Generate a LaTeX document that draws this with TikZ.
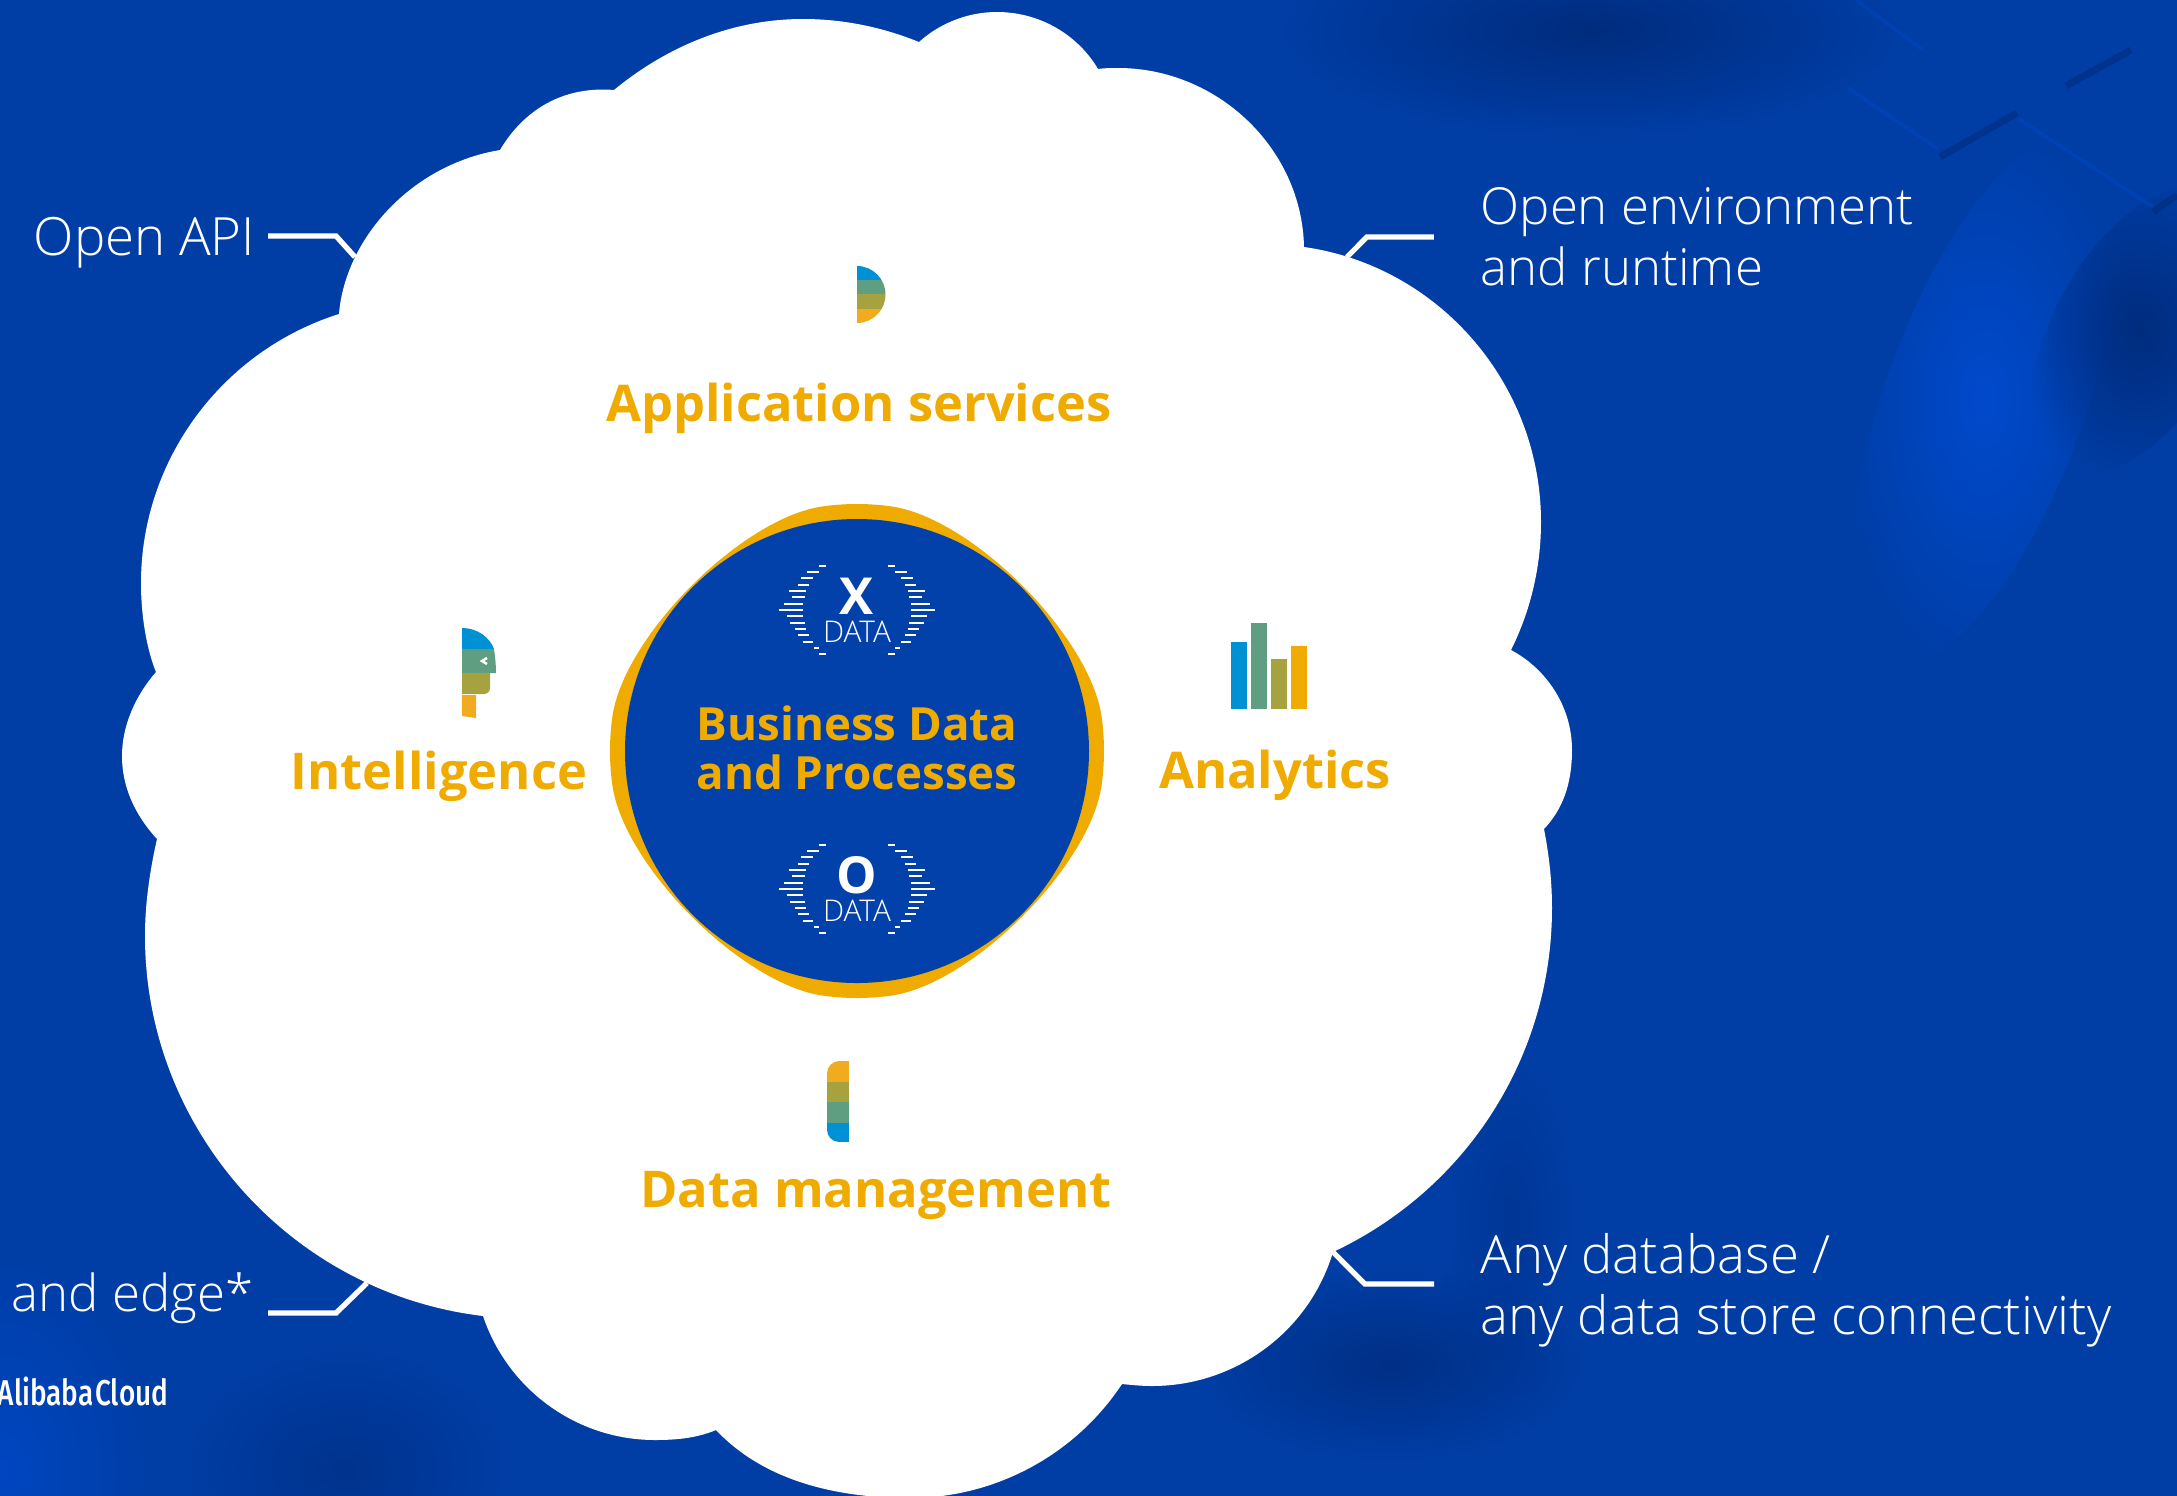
\documentclass[tikz,border=0pt]{standalone}
\usepackage{fontspec}
\setmainfont{Open Sans}
\newfontfamily\lightfont{Open Sans Light}
\newfontfamily\boldfont{Open Sans}
\newfontfamily\logofont{Fira Sans Medium}[FakeStretch=0.78]
\usepackage{tikz}
\usetikzlibrary{positioning, fadings}
\definecolor{bgblue}{RGB}{0,62,166}
\definecolor{deepblue}{RGB}{0,44,125}
\definecolor{paleblue}{RGB}{0,74,205}
\definecolor{corefill}{RGB}{2,64,170}
\definecolor{gold}{RGB}{240,171,0}
\definecolor{bandblue}{RGB}{0,144,212}
\definecolor{bandgreen}{RGB}{95,158,128}
\definecolor{bandolive}{RGB}{165,162,63}
\definecolor{bandorange}{RGB}{240,171,30}
\tikzfading[name=softblob, inner color=transparent!0, outer color=transparent!100]
\tikzset{
  note/.style={inner sep=0pt, text=white, align=left, font=\lightfont\fontsize{15}{17.4}\selectfont},
  narrownote/.style={note, font=\lightfont\fontsize{14.5}{17.4}\selectfont},
  headline/.style={inner sep=0pt, text=gold, align=center, font=\boldfont\bfseries\fontsize{14.4}{16}\selectfont},
  coreline/.style={headline, font=\boldfont\bfseries\fontsize{13}{13.9}\selectfont},
  pointer/.style={draw=white, line width=1.5pt, line join=miter},
  eyedash/.style={draw=white, line width=0.5pt},
  bigletter/.style={inner sep=0pt, text=white, font=\boldfont\bfseries\fontsize{14.5}{15}\selectfont},
  smallword/.style={inner sep=0pt, text=white, font=\lightfont\fontsize{8.5}{9}\selectfont},
  scratch/.style={draw=deepblue, line width=2pt, opacity=0.6},
  ridge/.style={draw=paleblue, line width=1pt, opacity=0.4},
  blob/.style={path fading=softblob},
}
\newcommand{\dataeye}[3]{
  \node [bigletter] (#1letter) at (#2) {#3};
  \node [smallword, below=0.05cm of #1letter] (#1word) {DATA};
  \foreach \r/\a/\b in {-7/31/38,-6/38/50,-5/44/56,-4/48/59,-3/51/68,-2/52/65,-1/54/73,0/54/78,1/54/70,2/52/67,3/51/62,4/48/59,5/44/54,6/38/43,7/31/38} {
    \draw [eyedash] ([shift={(-\a,\r*6.33+14)}]#1letter.center) -- ([shift={(-\b,\r*6.33+14)}]#1letter.center);
    \draw [eyedash] ([shift={(\a,\r*6.33+14)}]#1letter.center) -- ([shift={(\b,\r*6.33+14)}]#1letter.center);
  }
}
\begin{document}
\begin{tikzpicture}[x=0.01cm, y=-0.01cm]
  \useasboundingbox (0,0) rectangle (2177,1496);
  \clip (0,0) rectangle (2177,1496);
  \fill [bgblue] (0,0) rectangle (2177,1496);

  %BACKGROUND
  \fill [deepblue, blob] (1590,30) ellipse (320 and 110);
  \begin{scope}[shift={(1985,400)}, rotate=-20]
    \fill [paleblue, blob] (0,0) ellipse (100 and 280);
  \end{scope}
  \begin{scope}[shift={(2140,330)}, rotate=-30]
    \fill [deepblue, blob] (0,0) ellipse (85 and 160);
  \end{scope}
  \fill [deepblue, blob, opacity=0.8] (1390,1365) ellipse (200 and 100);
  \fill [deepblue, blob, opacity=0.4] (1510,1220) ellipse (70 and 180);
  \fill [deepblue, blob, opacity=0.6] (345,1470) ellipse (170 and 130);
  \fill [paleblue, blob, opacity=0.7] (0,1470) ellipse (150 and 220);
  \draw [scratch] (1940,157) -- (2017,113);
  \draw [scratch] (2066,86) -- (2131,50);
  \draw [scratch] (2153,212) -- (2177,195);
  \draw [ridge] (1848,88) -- (1938,149);
  \draw [ridge] (1856,0) -- (1923,50);
  \draw [ridge] (2019,119) -- (2153,207);

  %CLOUD
  \fill [white] (614,90)
    .. controls (665,48) and (730,19) .. (803,19)
    .. controls (843,19) and (882,27) .. (919,42)
    .. controls (940,23) and (968,12) .. (997,12)
    .. controls (1040,12) and (1078,35) .. (1098,69)
    .. controls (1104,68) and (1112,68) .. (1118,68)
    .. controls (1217,68) and (1302,148) .. (1304,247)
    .. controls (1439,266) and (1541,384) .. (1541,522)
    .. controls (1541,566) and (1531,610) .. (1511,650)
    .. controls (1545,668) and (1572,705) .. (1572,750)
    .. controls (1572,785) and (1562,810) .. (1544,829)
    .. controls (1549,855) and (1552,880) .. (1552,908)
    .. controls (1552,1056) and (1467,1189) .. (1333,1252)
    .. controls (1309,1332) and (1235,1386) .. (1152,1386)
    .. controls (1142,1386) and (1132,1385) .. (1122,1384)
    .. controls (1075,1455) and (995,1498) .. (910,1498)
    .. controls (841,1498) and (766,1483) .. (716,1430)
    .. controls (697,1438) and (677,1440) .. (655,1440)
    .. controls (577,1440) and (508,1390) .. (483,1316)
    .. controls (291,1293) and (145,1129) .. (145,936)
    .. controls (145,903) and (150,870) .. (157,839)
    .. controls (135,815) and (122,787) .. (122,756)
    .. controls (122,725) and (136,695) .. (156,672)
    .. controls (147,650) and (141,617) .. (141,583)
    .. controls (141,460) and (222,351) .. (339,314)
    .. controls (345,240) and (410,165) .. (500,150)
    .. controls (525,108) and (565,86) .. (614,90) -- cycle;

  %CENTRE
  \coordinate (core) at (857,751);
  \fill [gold] (822.6,506.4) .. controls (845.4,503.2) and (868.6,503.2) .. (891.4,506.4)
    .. controls (972,518) and (1090,636) .. (1101.6,716.6)
    .. controls (1104.8,739.4) and (1104.8,762.6) .. (1101.6,785.4)
    .. controls (1090,866) and (972,984) .. (891.4,995.6)
    .. controls (868.6,998.8) and (845.4,998.8) .. (822.6,995.6)
    .. controls (742,984) and (624,866) .. (612.4,785.4)
    .. controls (609.2,762.6) and (609.2,739.4) .. (612.4,716.6)
    .. controls (624,636) and (742,518) .. (822.6,506.4) -- cycle;
  \fill [corefill] (core) circle (232);
  \node [coreline] (business) at (857,748) {Business Data\\and Processes};
  \dataeye{xdata}{857,596}{X}
  \dataeye{odata}{857,875}{O}

  %HEADLINES
  \node [headline] (appservices) at (859,408) {Application services};
  \node [headline] (intelligence) at (439,776) {Intelligence};
  \node [headline] (analytics) at (1275,775) {Analytics};
  \node [headline] (datamgmt) at (876,1195) {Data management};

  %ICONS
  \begin{scope}
    \clip (857,266) arc[start angle=-90, end angle=90, radius=28.5] -- cycle;
    \fill [bandblue] (857,266) rectangle (886,280);
    \fill [bandgreen] (857,280) rectangle (886,294);
    \fill [bandolive] (857,294) rectangle (886,309);
    \fill [bandorange] (857,309) rectangle (886,324);
  \end{scope}

  \fill [bandblue] (462,628) .. controls (478,628) and (490,638) .. (494,649) -- (462,649) -- cycle;
  \fill [bandgreen] (462,649) -- (494,649) .. controls (495,656) and (496,664) .. (496,673) -- (462,673) -- cycle;
  \draw [white, line width=0.7pt] (487,658) -- (482,661) -- (487,664);
  \fill [bandolive] (462,673) -- (490,673) -- (490,688) arc[start angle=0, end angle=90, radius=6] -- (462,694) -- cycle;
  \fill [bandorange] (462,695) -- (476,695) -- (476,718) -- (462,716) -- cycle;

  \fill [bandblue] (1231,642) rectangle (1247,709);
  \fill [bandgreen] (1251,623) rectangle (1267,709);
  \fill [bandolive] (1271,659) rectangle (1287,709);
  \fill [gold] (1291,646) rectangle (1307,709);

  \begin{scope}
    \clip (849,1061) [rounded corners=3.5pt] -- (827,1061) -- (827,1142) [sharp corners] -- (849,1142) -- cycle;
    \fill [bandorange] (827,1061) rectangle (849,1082);
    \fill [bandolive] (827,1082) rectangle (849,1102);
    \fill [bandgreen] (827,1102) rectangle (849,1123);
    \fill [bandblue] (827,1123) rectangle (849,1142);
  \end{scope}

  %NOTES
  \node [note, anchor=west] (openapi) at (33,243) {Open API};
  \node [narrownote, anchor=west] (openenv) at (1480,237) {Open environment\\and runtime};
  \node [note, anchor=west] (anydb) at (1480,1290) {Any database /\\any data store connectivity};
  \node [narrownote, anchor=west] (edge) at (11,1298) {and edge*};
  \node [inner sep=0pt, anchor=east, text=white, font=\logofont\fontsize{10.2}{11}\selectfont] (alibaba) at (169,1391) {Alibaba\hspace{-1.5pt} Cloud};

  \coordinate (apistart) at (268,236);
  \coordinate [right=0.68cm of apistart] (apielbow);
  \coordinate (apitip) at (355,257);
  \draw [pointer] (apistart) -- (apielbow) -- (apitip);

  \coordinate [left=0.46cm of openenv] (envstart);
  \coordinate [left=0.67cm of envstart] (envelbow);
  \coordinate (envtip) at (1347,257);
  \draw [pointer] (envstart) -- (envelbow) -- (envtip);

  \coordinate (dbstart) at (1434,1284);
  \coordinate [left=0.69cm of dbstart] (dbelbow);
  \coordinate (dbtip) at (1333,1252);
  \draw [pointer] (dbstart) -- (dbelbow) -- (dbtip);

  \coordinate (edgestart) at (268,1313);
  \coordinate [right=0.68cm of edgestart] (edgeelbow);
  \coordinate (edgetip) at (367,1283);
  \draw [pointer] (edgestart) -- (edgeelbow) -- (edgetip);
\end{tikzpicture}
\end{document}
